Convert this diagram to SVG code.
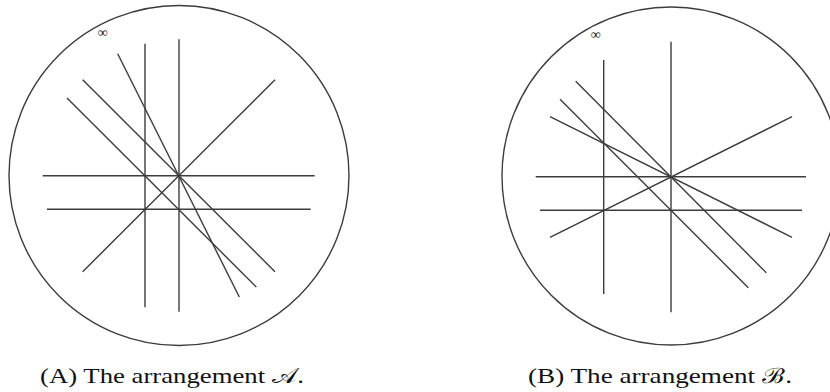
<svg xmlns="http://www.w3.org/2000/svg" width="830" height="392" viewBox="0 0 830 392">
<style>
.c{fill:none;stroke:#3c3c3c;stroke-width:1.4}
.l{stroke:#3c3c3c;stroke-width:1.4;stroke-linecap:butt}
.inf{font-family:"Liberation Serif","DejaVu Serif",serif;font-size:14px;fill:#222;text-anchor:middle}
.cap{font-family:"Liberation Serif","DejaVu Serif",serif;font-size:21px;fill:#111}
</style>
<rect width="830" height="392" fill="#fff"/>
<g id="panelA">
<circle class="c" cx="179" cy="175.5" r="170"/>
<text class="inf" x="102.7" y="36.5">∞</text>
<g id="linesA">
<line class="l" x1="42.7" y1="175.7" x2="314.7" y2="175.7"/>
<line class="l" x1="47" y1="209.3" x2="310.7" y2="209.3"/>
<line class="l" x1="145" y1="43.7" x2="145" y2="307.3"/>
<line class="l" x1="179" y1="39.3" x2="179" y2="311.7"/>
<line class="l" x1="82.7" y1="271.7" x2="275" y2="79.7"/>
<line class="l" x1="82.7" y1="79.7" x2="275" y2="271.7"/>
<line class="l" x1="67" y1="98" x2="256.3" y2="287"/>
<line class="l" x1="117.7" y1="53.7" x2="239.3" y2="297"/>
</g>
<text class="cap" x="40" y="383" textLength="264" lengthAdjust="spacingAndGlyphs">(A) The arrangement 𝒜.</text>
</g>
<g id="panelB">
<circle class="c" cx="671" cy="176" r="169"/>
<text class="inf" x="595.7" y="39">∞</text>
<g id="linesB">
<line class="l" x1="535.7" y1="176.7" x2="806" y2="176.7"/>
<line class="l" x1="540" y1="210.3" x2="802" y2="210.3"/>
<line class="l" x1="603.7" y1="60" x2="603.7" y2="294"/>
<line class="l" x1="671" y1="41.7" x2="671" y2="312.3"/>
<line class="l" x1="550" y1="237.3" x2="792" y2="116.7"/>
<line class="l" x1="550" y1="116.7" x2="792" y2="237.3"/>
<line class="l" x1="575.7" y1="81.3" x2="766.3" y2="272.7"/>
<line class="l" x1="560" y1="99.3" x2="748.3" y2="287.7"/>
</g>
<text class="cap" x="528" y="383" textLength="264" lengthAdjust="spacingAndGlyphs">(B) The arrangement ℬ.</text>
</g>
</svg>
